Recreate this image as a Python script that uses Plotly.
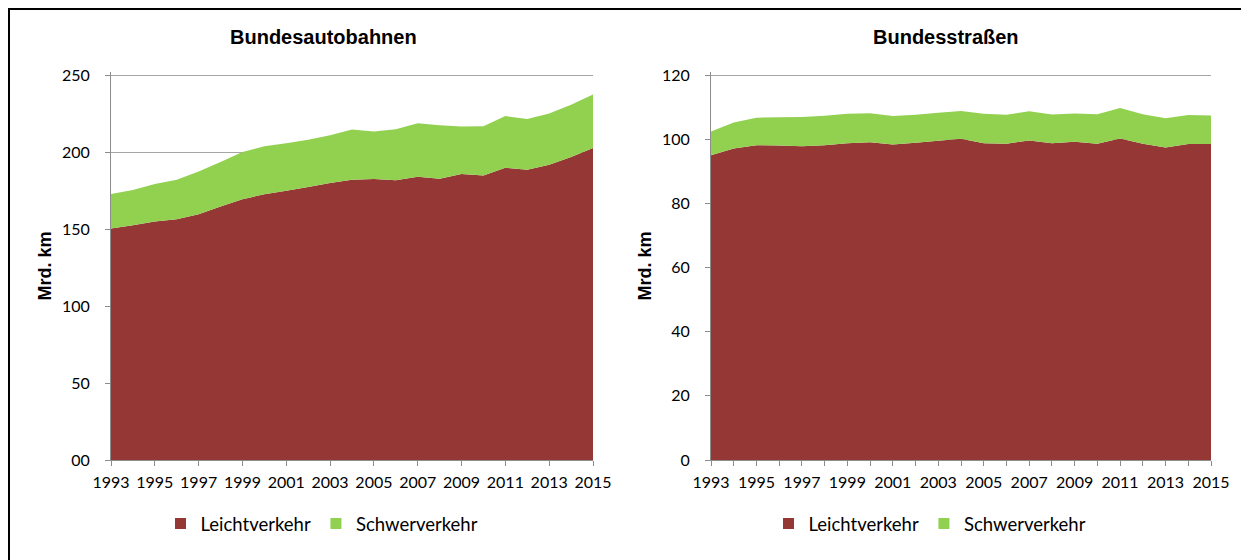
import plotly.graph_objects as go

W, H = 1249, 560
OFF = 8  # the page body margin shifts the figure by 8px

years = list(range(1993, 2016))

# Bundesautobahnen, Mrd. km
autobahn_leicht = [150.4, 152.5, 154.8, 156.3, 159.6, 164.6, 169.3, 172.6, 174.8, 177.2, 179.8, 182.0,
                   182.4, 181.7, 183.9, 182.6, 185.7, 184.8, 189.8, 188.5, 191.7, 196.7, 202.6]
autobahn_schwer = [22.4, 22.9, 24.5, 25.7, 27.8, 28.9, 30.7, 31.1, 30.9, 30.8, 31.1, 32.6,
                   30.9, 33.1, 34.8, 34.8, 30.8, 31.9, 33.5, 33.0, 33.3, 34.0, 34.8]

# Bundesstraßen, Mrd. km
strassen_leicht = [95.0, 97.1, 98.1, 98.0, 97.8, 98.1, 98.7, 99.0, 98.3, 98.9, 99.5, 100.1,
                   98.7, 98.6, 99.6, 98.7, 99.2, 98.6, 100.2, 98.6, 97.4, 98.5, 98.5]
strassen_schwer = [7.4, 8.1, 8.6, 8.8, 9.1, 9.2, 9.2, 9.1, 8.9, 8.7, 8.7, 8.7,
                   9.2, 9.0, 9.1, 9.0, 8.8, 9.2, 9.5, 9.2, 9.1, 9.0, 8.9]

autobahn_ticks = [0, 50, 100, 150, 200, 250]
autobahn_ticktext = ["00", "50", "100", "150", "200", "250"]

RED = "#953735"
GREEN = "#92d050"
GRID = "#a6a6a6"
AXIS = "#8c8c8c"
TICK_FONT = dict(family="Lato", size=16, color="#000000")
LEGEND_FONT = dict(family="Lato", size=18.5, color="#000000")

# pixel frame of the plot areas (top = where the highest tick sits)
Y_TOP, Y_BOT = 75, 460


def px(x):
    return (x - OFF) / W


def py(y):
    return 1 - (y - OFF) / H


def y_domain(tick_max, range_max):
    # leave a little headroom so the top gridline is not clipped
    top = Y_BOT - (Y_BOT - Y_TOP) * range_max / tick_max
    return [py(Y_BOT), py(top)]


fig = go.Figure()

panels = [
    ("x", "y", "a", "legend", autobahn_leicht, autobahn_schwer),
    ("x2", "y2", "b", "legend2", strassen_leicht, strassen_schwer),
]
for xa, ya, group, legend, leicht, schwer in panels:
    for name, vals, color in [("Leichtverkehr", leicht, RED), ("Schwerverkehr", schwer, GREEN)]:
        fig.add_trace(go.Scatter(x=years, y=vals, name=name, stackgroup=group, mode="none",
                                 fillcolor=color, xaxis=xa, yaxis=ya, showlegend=False))
        # square legend swatch like the original
        fig.add_trace(go.Scatter(x=[None], y=[None], name=name, mode="markers",
                                 marker=dict(symbol="square", size=11, color=color),
                                 xaxis=xa, yaxis=ya, legend=legend))

xcommon = dict(showgrid=False, zeroline=False, showline=True, linecolor=AXIS, linewidth=1,
               ticks="outside", ticklen=5, tickcolor=AXIS, tickfont=TICK_FONT, range=[1993, 2015],
               tickmode="linear", tick0=1993, automargin=False, ticklabelstandoff=3)
ycommon = dict(showgrid=True, gridcolor=GRID, gridwidth=1, zeroline=False, showline=True,
               linecolor=AXIS, linewidth=1, ticks="outside", ticklen=5, tickcolor=AXIS,
               tickfont=TICK_FONT, automargin=False, ticklabelstandoff=12,
               title=dict(text="<b>Mrd. km</b>", standoff=5,
                          font=dict(family="Liberation Sans", size=18, color="#000000")))

legend_common = dict(orientation="h", xanchor="center", yanchor="middle", font=LEGEND_FONT,
                     traceorder="normal", bgcolor="rgba(0,0,0,0)", itemwidth=30)

fig.update_layout(
    width=W, height=H,
    margin=dict(l=0, r=0, t=0, b=0, autoexpand=False),
    paper_bgcolor="white", plot_bgcolor="white",
    xaxis=dict(xcommon, domain=[px(111), px(593)], anchor="y", dtick=2),
    yaxis=dict(ycommon, domain=y_domain(250, 252), anchor="x", range=[0, 252],
               tickmode="array", tickvals=autobahn_ticks, ticktext=autobahn_ticktext),
    xaxis2=dict(xcommon, domain=[px(711), px(1211)], anchor="y2", dtick=1, ticklabelstep=2),
    yaxis2=dict(ycommon, domain=y_domain(120, 121), anchor="x2", range=[0, 121],
                tickmode="linear", tick0=0, dtick=20),
    legend=dict(legend_common, x=px(322), y=py(524)),
    legend2=dict(legend_common, x=px(930), y=py(524)),
    annotations=[
        dict(text="<b>Bundesautobahnen</b>", x=px(323), y=py(37), xref="paper", yref="paper",
             xanchor="center", yanchor="middle", showarrow=False,
             font=dict(family="Liberation Sans", size=20, color="#000000")),
        dict(text="<b>Bundesstraßen</b>", x=px(946), y=py(37), xref="paper", yref="paper",
             xanchor="center", yanchor="middle", showarrow=False,
             font=dict(family="Liberation Sans", size=20, color="#000000")),
    ],
    shapes=[
        dict(type="line", xref="paper", yref="paper", x0=1 / W, x1=1 / W, y0=0, y1=1 - 1 / H,
             line=dict(color="black", width=2)),
        dict(type="line", xref="paper", yref="paper", x0=0, x1=1, y0=1 - 1 / H, y1=1 - 1 / H,
             line=dict(color="black", width=2)),
    ],
    showlegend=True,
)

fig.write_html("out.html")
